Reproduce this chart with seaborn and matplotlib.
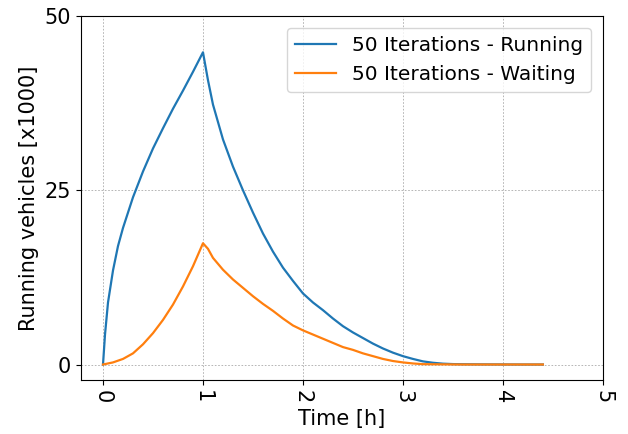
import matplotlib
matplotlib.use("Agg")
import matplotlib.pyplot as plt
import seaborn as sns
import pandas as pd

time_running = [0, 0.02, 0.05, 0.1, 0.15, 0.2, 0.3, 0.4, 0.5, 0.6, 0.7, 0.8, 0.9, 1.0,
                1.05, 1.1, 1.2, 1.3, 1.4, 1.5, 1.6, 1.7, 1.8, 1.9, 2.0, 2.1, 2.2, 2.3,
                2.4, 2.5, 2.6, 2.7, 2.8, 2.9, 3.0, 3.1, 3.2, 3.3, 3.4, 3.5, 3.6, 3.8,
                4.0, 4.2, 4.4]
running = [0, 4.3, 8.9, 13.5, 17.0, 19.6, 24.0, 27.7, 31.0, 33.9, 36.7, 39.3, 42.0, 44.8,
           40.8, 37.3, 32.3, 28.4, 25.0, 21.8, 18.8, 16.2, 13.9, 12.0, 10.2, 8.9, 7.8, 6.6,
           5.5, 4.6, 3.8, 3.0, 2.3, 1.7, 1.2, 0.8, 0.45, 0.25, 0.12, 0.06, 0.04, 0.02,
           0.01, 0.0, 0.0]

time_waiting = [0, 0.1, 0.2, 0.3, 0.4, 0.5, 0.6, 0.7, 0.8, 0.9, 1.0, 1.05, 1.1, 1.2, 1.3,
                1.4, 1.5, 1.6, 1.7, 1.8, 1.9, 2.0, 2.1, 2.2, 2.3, 2.4, 2.5, 2.6, 2.7, 2.8,
                2.9, 3.0, 3.1, 3.2, 3.4, 3.6, 4.0, 4.4]
waiting = [0, 0.3, 0.8, 1.6, 2.9, 4.5, 6.4, 8.6, 11.2, 14.1, 17.4, 16.6, 15.3, 13.6, 12.2,
           11.0, 9.8, 8.7, 7.7, 6.6, 5.6, 4.9, 4.3, 3.7, 3.1, 2.5, 2.1, 1.6, 1.2, 0.8,
           0.5, 0.3, 0.15, 0.05, 0.02, 0.0, 0.0, 0.0]

labels = ["50 Iterations - Running", "50 Iterations - Waiting"]
x_ticks = [0, 1, 2, 3, 4, 5]
y_ticks = [0, 25, 50]

df = pd.concat([
    pd.DataFrame({"t": time_running, "v": running, "series": labels[0]}),
    pd.DataFrame({"t": time_waiting, "v": waiting, "series": labels[1]}),
])

fig = plt.figure(figsize=(6.28, 4.34), dpi=100)
ax = fig.add_axes([0.129, 0.124, 0.831, 0.839])
sns.lineplot(data=df, x="t", y="v", hue="series", palette=["#1f77b4", "#ff7f0e"],
             linewidth=1.6, ax=ax, sort=False, estimator=None)
ax.set_xlim(-0.22, 5)
ax.set_ylim(-2.25, 50)
ax.set_xticks(x_ticks)
ax.set_yticks(y_ticks)
ax.tick_params(axis="x", labelrotation=270, labelsize=15)
ax.tick_params(axis="y", labelsize=15)
ax.grid(True, linestyle=(0, (2, 2)), linewidth=0.6, color="#aaaaaa")
ax.set_xlabel("Time [h]", fontsize=15)
ax.set_ylabel("Running vehicles [x1000]", fontsize=15)
ax.legend(loc="upper right", fontsize=14.5, title=None, borderaxespad=0.6)
fig.savefig("out.png", dpi=100)
